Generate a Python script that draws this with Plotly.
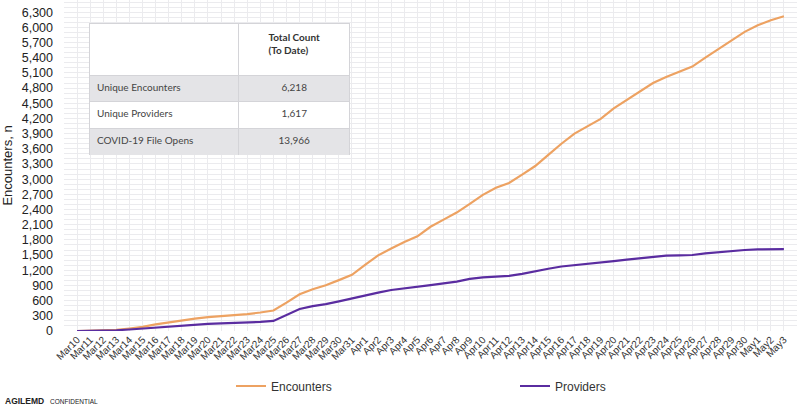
import plotly.graph_objects as go

dates = (["Mar%d" % d for d in range(10, 32)]
         + ["Apr%d" % d for d in range(1, 31)]
         + ["May%d" % d for d in range(1, 4)])

encounters = [0, 5, 15, 25, 50, 80, 130, 170, 215, 245, 275, 290, 310, 335, 365, 405,
              560, 725, 825, 905, 1005, 1110,
              1305, 1495, 1630, 1760, 1870, 2060, 2200, 2340, 2510, 2690, 2830, 2925, 3090,
              3260, 3480, 3700, 3900, 4040, 4190, 4400, 4570, 4740, 4900, 5020, 5120, 5225,
              5400, 5570, 5740, 5910, 6040, 6140, 6218]

providers = [0, 3, 8, 15, 30, 50, 70, 90, 110, 128, 140, 150, 158, 168, 180, 200,
             320, 435, 490, 530, 585, 645,
             710, 757, 810, 840, 865, 905, 940, 975, 1030, 1060, 1075, 1090, 1130,
             1185, 1230, 1275, 1300, 1320, 1340, 1380, 1410, 1436, 1465, 1488, 1495, 1502,
             1535, 1560, 1585, 1600, 1613, 1615, 1617]

table_labels = ["Unique Encounters", "Unique Providers", "COVID-19 File Opens"]
table_values = ["6,218", "1,617", "13,966"]
table_header = ["", "<b>Total Count<br>(To Date)</b>"]

ORANGE = "#EDA262"
PURPLE = "#5A2CA0"
GRID = "#ebebee"

W, H = 800, 407
ML, MR, MT, MB = 64, 3, 0, 76
PW, PH = W - ML - MR, H - MT - MB

def px_x(x):
    return (x - ML) / PW

def px_y(y):
    return (H - MB - y) / PH

fig = go.Figure()
fig.add_trace(go.Scatter(x=list(range(len(dates))), y=encounters, mode="lines",
                         name="Encounters", line=dict(color=ORANGE, width=2.2),
                         legend="legend"))
fig.add_trace(go.Scatter(x=list(range(len(dates))), y=providers, mode="lines",
                         name="Providers", line=dict(color=PURPLE, width=2.2),
                         legend="legend2"))

row_fill = ["#e4e4e7", "#ffffff", "#e4e4e7"]
fig.add_trace(go.Table(
    domain=dict(x=[px_x(89), px_x(351)], y=[px_y(155), px_y(23)]),
    columnwidth=[150, 112],
    header=dict(values=table_header, height=52, fill_color="#ffffff",
                line_color="#d4d4d8", align=["left", "center"],
                font=dict(family="Lato, sans-serif", size=10, color="#333")),
    cells=dict(values=[table_labels, table_values], height=26.7,
               fill_color=[row_fill, row_fill], line_color="#d4d4d8",
               align=["left", "center"],
               font=dict(family="Lato, sans-serif", size=10, color="#444")),
))

fig.update_layout(
    width=W, height=H,
    margin=dict(l=ML, r=MR, t=MT, b=MB, pad=0, autoexpand=False),
    paper_bgcolor="white", plot_bgcolor="white",
    font=dict(family="Liberation Sans, Arial, sans-serif", color="#222"),
    showlegend=True,
    legend=dict(orientation="h", x=px_x(231), xanchor="left", y=px_y(386), yanchor="middle",
                font=dict(size=12, color="#333"), bgcolor="rgba(0,0,0,0)"),
    legend2=dict(orientation="h", x=px_x(515), xanchor="left", y=px_y(386), yanchor="middle",
                 font=dict(size=12, color="#333"), bgcolor="rgba(0,0,0,0)"),
    xaxis=dict(
        range=[-1, 55], tickmode="array", tickvals=list(range(len(dates))), ticktext=dates,
        tickangle=-45, tickfont=dict(size=10, color="#333"), automargin=False,
        showgrid=True, gridcolor=GRID, gridwidth=1, zeroline=False, showline=False,
        ticks="", fixedrange=True,
    ),
    yaxis=dict(
        range=[0, 6540], dtick=300, tick0=0, tickformat=",", automargin=False,
        tickfont=dict(size=12.5, color="#222"), ticklabelstandoff=10,
        showgrid=True, gridcolor=GRID, gridwidth=1, zeroline=False, showline=False,
        minor=dict(dtick=100, showgrid=True, gridcolor=GRID, gridwidth=1),
        title=dict(text="Encounters, n", font=dict(size=13, color="#222"), standoff=8),
        ticks="", fixedrange=True,
    ),
)

fig.add_annotation(text="<b>AGILEMD</b>", xref="paper", yref="paper",
                   x=px_x(3), y=px_y(401), xanchor="left", yanchor="middle",
                   showarrow=False, font=dict(size=8.5, color="#222"))
fig.add_annotation(text="CONFIDENTIAL", xref="paper", yref="paper",
                   x=px_x(48), y=px_y(401), xanchor="left", yanchor="middle",
                   showarrow=False, font=dict(size=6.5, color="#222"))

fig.write_html("out.html", config={"displayModeBar": False},
               post_script="document.body.style.margin='0';document.body.style.overflow='hidden';")
